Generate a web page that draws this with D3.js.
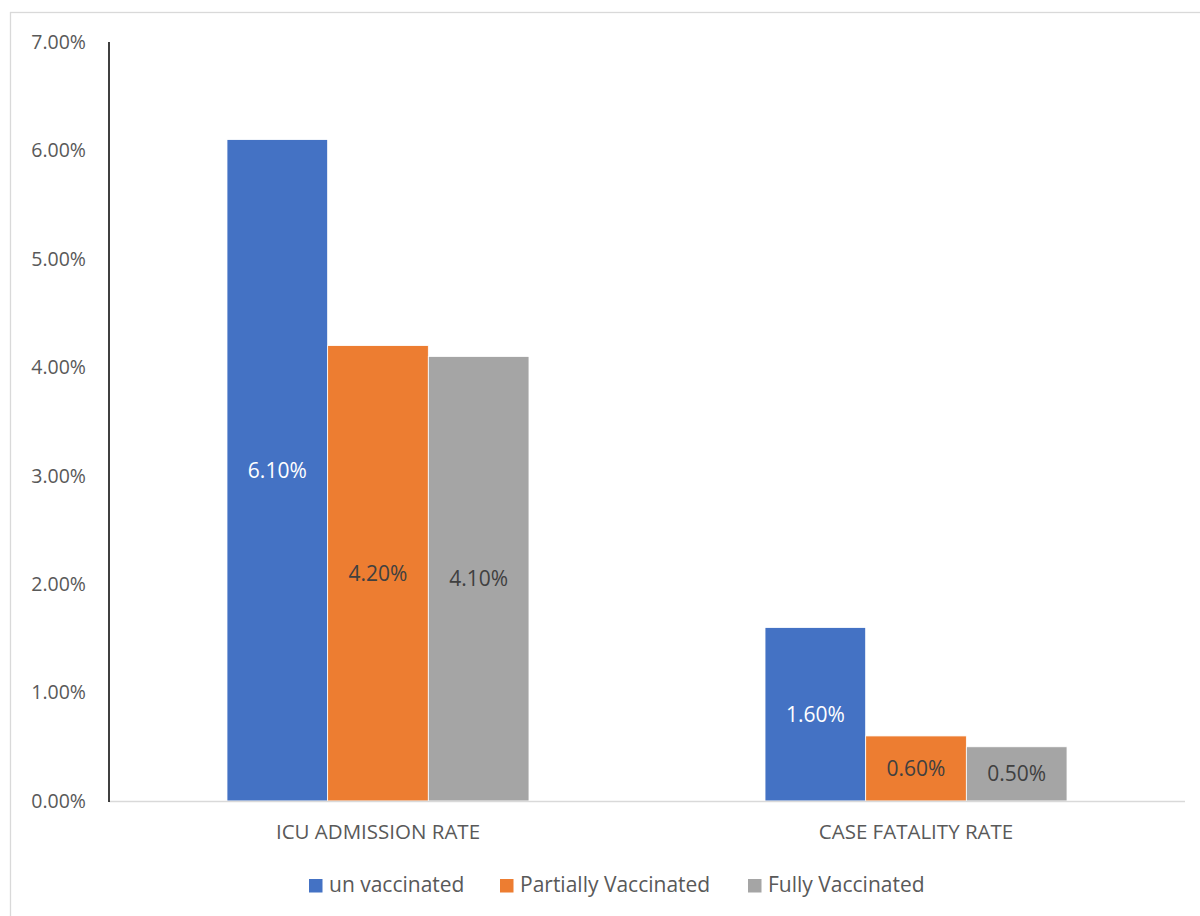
<!DOCTYPE html>
<html>
<head>
<meta charset="utf-8">
<script src="https://cdn.jsdelivr.net/npm/d3@7"></script>
<style>
  body { margin: 0; background: #fff; }
  text { font-family: "Open Sans", sans-serif; }
</style>
</head>
<body>
<svg id="chart"></svg>
<script>
const width = 1200;
const height = 916;

// data
const categories = ['ICU ADMISSION RATE', 'CASE FATALITY RATE'];
const seriesNames = ['un vaccinated', 'Partially Vaccinated', 'Fully Vaccinated'];
const unVaccinated = [0.061, 0.016];
const partiallyVaccinated = [0.042, 0.006];
const fullyVaccinated = [0.041, 0.005];
const yTicks = [0, 0.01, 0.02, 0.03, 0.04, 0.05, 0.06, 0.07];

const colors = ['#4472C4', '#ED7D31', '#A5A5A5'];
const labelColors = ['#ffffff', '#404040', '#404040'];

const series = [unVaccinated, partiallyVaccinated, fullyVaccinated];

const margin = { left: 109, right: 15, top: 42, bottom: 115 };

const svg = d3.select('#chart')
  .attr('width', width)
  .attr('height', height);

// outer frame
svg.append('rect')
  .attr('x', 10.5).attr('y', 12.5)
  .attr('width', 1200).attr('height', 920)
  .attr('fill', 'none')
  .attr('stroke', '#d9d9d9')
  .attr('stroke-width', 1.3);

const x0 = d3.scaleBand()
  .domain(categories)
  .range([margin.left, width - margin.right])
  .paddingInner(0.4387)
  .paddingOuter(0.2193);

const x1 = d3.scaleBand()
  .domain(d3.range(seriesNames.length))
  .range([0, x0.bandwidth()]);

const y = d3.scaleLinear()
  .domain([0, 0.07])
  .range([height - margin.bottom, margin.top]);

const fmt = d3.format('.2%');

// y tick labels
svg.append('g')
  .selectAll('text')
  .data(yTicks)
  .enter()
  .append('text')
  .attr('x', 86)
  .attr('y', d => y(d))
  .attr('dy', '0.35em')
  .attr('text-anchor', 'end')
  .attr('font-size', 19.5)
  .attr('fill', '#595959')
  .text(d => fmt(d));

// bars
const groups = svg.selectAll('.group')
  .data(categories)
  .enter()
  .append('g')
  .attr('class', 'group')
  .attr('transform', d => `translate(${x0(d)},0)`);

groups.each(function (cat, ci) {
  const g = d3.select(this);
  series.forEach((vals, si) => {
    const v = vals[ci];
    g.append('rect')
      .attr('x', x1(si))
      .attr('y', y(v))
      .attr('width', x1.bandwidth())
      .attr('height', y(0) - y(v))
      .attr('fill', colors[si])
      .attr('stroke', '#ffffff')
      .attr('stroke-width', 0.8);

    g.append('text')
      .attr('x', x1(si) + x1.bandwidth() / 2)
      .attr('y', (y(v) + y(0)) / 2)
      .attr('dy', '0.35em')
      .attr('text-anchor', 'middle')
      .attr('font-size', 21)
      .attr('fill', labelColors[si])
      .text(fmt(v));
  });
});

// x axis line
svg.append('line')
  .attr('x1', margin.left).attr('x2', width - margin.right)
  .attr('y1', y(0) + 0.5).attr('y2', y(0) + 0.5)
  .attr('stroke', '#d9d9d9')
  .attr('stroke-width', 1.5);

// y axis line
svg.append('line')
  .attr('x1', margin.left).attr('x2', margin.left)
  .attr('y1', y(0.07)).attr('y2', y(0) + 1)
  .attr('stroke', '#000000')
  .attr('stroke-width', 1.5);

// category labels
svg.append('g')
  .selectAll('text')
  .data(categories)
  .enter()
  .append('text')
  .attr('x', d => x0(d) + x0.bandwidth() / 2)
  .attr('y', 832)
  .attr('dy', '0.35em')
  .attr('text-anchor', 'middle')
  .attr('font-size', 20.5)
  .attr('fill', '#595959')
  .text(d => d);

// legend
const legendX = [309, 500, 748];
const legend = svg.append('g');
seriesNames.forEach((name, i) => {
  legend.append('rect')
    .attr('x', legendX[i])
    .attr('y', 879)
    .attr('width', 13.5)
    .attr('height', 13.5)
    .attr('fill', colors[i]);
  legend.append('text')
    .attr('x', legendX[i] + 20)
    .attr('y', 885)
    .attr('dy', '0.35em')
    .attr('font-size', 21)
    .attr('fill', '#595959')
    .text(name);
});
</script>
</body>
</html>
